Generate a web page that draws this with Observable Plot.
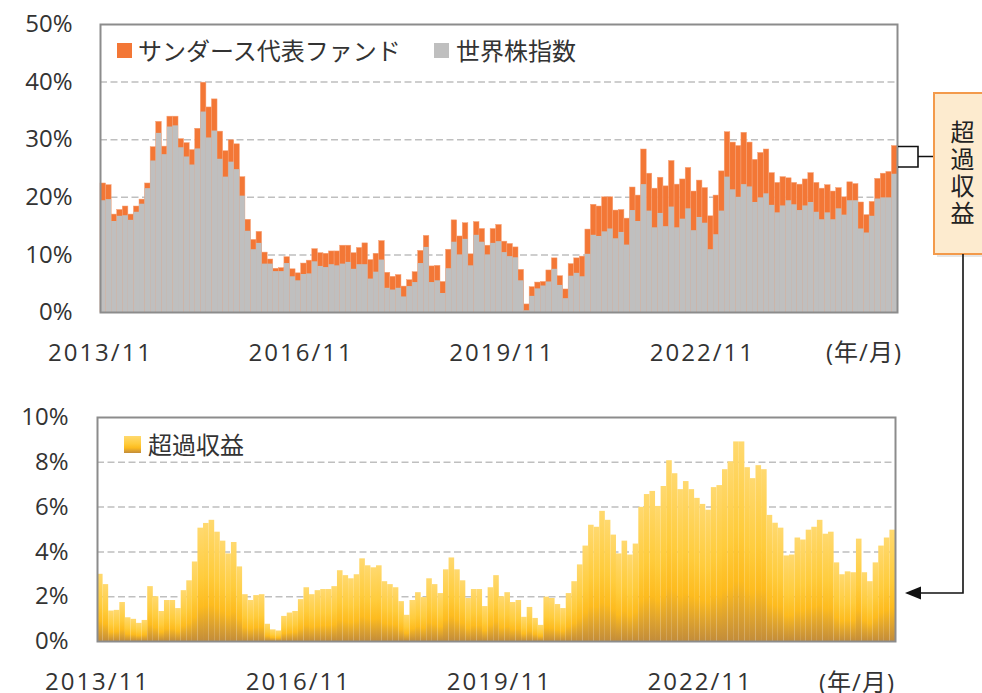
<!DOCTYPE html>
<html><head><meta charset="utf-8">
<script src="https://cdn.jsdelivr.net/npm/d3@7"></script>
<script src="https://cdn.jsdelivr.net/npm/@observablehq/plot@0.6"></script>
<style>
body{margin:0;background:#fff;}
#wrap{position:relative;width:982px;height:693px;overflow:hidden;font-family:"Open Sans","Noto Sans CJK JP",sans-serif;color:#333;}
#wrap svg{position:absolute;left:0;}
.lg{position:absolute;font-size:24px;line-height:24px;white-space:nowrap;font-family:"Noto Sans CJK JP",sans-serif;color:#333;}
</style></head><body>
<div id="wrap"></div>
<script>
// ---- data (monthly, 2013/11 .. 2025/09), % ----
const fundReturn = [22.4,22.1,17.0,17.8,18.4,17.0,18.4,19.6,22.4,28.7,33.1,28.8,34.0,34.0,30.1,29.4,28.2,31.9,39.9,35.6,37.0,31.4,28.0,29.9,29.2,23.5,16.1,12.6,14.0,10.4,9.2,7.6,7.7,9.6,7.5,6.8,
8.5,9.0,11.0,10.3,10.2,10.6,10.6,11.6,11.6,10.3,11.2,12.0,9.1,10.2,12.4,6.9,6.2,6.5,4.5,5.6,7.0,10.7,13.3,8.0,8.1,5.3,10.9,16.0,13.2,15.5,10.1,15.7,14.5,11.6,14.5,15.2,
12.3,11.9,11.3,7.4,1.4,4.4,5.2,5.3,7.3,9.4,6.3,4.0,8.4,9.4,9.7,14.4,18.7,18.4,20.0,20.0,17.7,17.8,16.3,21.7,20.3,28.3,24.1,21.5,23.4,21.9,26.3,22.2,23.1,25.1,21.0,22.9,
21.6,16.7,20.3,24.5,31.3,29.5,28.9,31.2,29.5,26.5,27.7,28.3,24.2,22.5,23.5,23.3,22.5,22.2,23.1,24.2,22.5,21.5,22.1,21.0,21.6,20.0,22.6,22.3,19.1,16.9,19.2,23.2,24.1,24.4,28.9];
const worldIndex = [19.4,19.6,15.8,16.7,16.8,16.0,17.4,18.8,21.5,26.3,31.1,27.4,32.2,32.4,28.6,27.0,25.6,28.4,34.8,30.3,31.5,26.6,23.5,26.1,24.8,20.2,14.1,10.9,12.0,8.4,8.4,7.1,7.1,8.5,6.2,5.5,
6.6,6.7,8.8,8.0,7.8,8.3,8.1,8.4,8.7,7.5,8.3,8.3,5.8,7.0,9.1,4.2,3.9,4.2,2.7,4.5,5.2,8.5,11.3,5.2,5.5,3.3,7.6,12.2,10.0,12.7,8.1,13.4,12.2,10.0,12.0,12.3,
10.4,9.7,9.5,5.5,0.3,2.8,4.1,4.6,5.3,7.5,4.7,2.4,6.3,6.8,6.2,10.1,13.4,13.2,14.0,14.5,12.8,13.9,11.7,17.7,15.8,22.2,17.6,14.7,17.2,14.9,18.3,14.7,16.2,18.0,14.2,16.5,
15.5,10.9,13.5,17.6,23.5,21.3,20.0,22.2,21.8,19.1,19.9,20.6,18.6,17.3,18.5,19.4,18.7,17.7,18.5,19.1,17.4,16.1,17.3,16.1,18.0,16.9,19.4,19.4,14.5,13.8,16.7,19.7,19.9,19.9,24.0];
const excessReturn = [3.0,2.54,1.36,1.39,1.74,1.06,0.99,0.81,0.94,2.45,2.0,1.34,1.83,1.83,1.47,2.27,2.71,3.55,5.06,5.27,5.41,4.88,4.48,3.91,4.42,3.33,2.09,1.83,2.05,2.09,0.77,0.52,0.47,1.12,1.27,1.34,
1.87,2.40,2.09,2.27,2.32,2.32,2.45,3.16,2.94,2.80,2.98,3.69,3.38,3.29,3.38,2.67,2.54,2.40,1.78,1.17,1.83,2.18,1.96,2.80,2.54,2.14,3.20,3.73,3.20,2.71,1.92,2.32,2.32,1.56,2.40,2.94,
2.0,2.18,1.74,1.83,1.08,1.52,1.03,0.72,1.98,1.92,1.65,1.47,2.14,2.67,3.42,4.26,5.19,5.10,5.81,5.41,4.75,3.91,4.48,3.86,4.35,5.99,6.56,6.70,6.03,6.92,8.07,7.49,6.78,7.14,6.78,6.39,
6.12,5.86,6.87,6.96,7.67,8.02,8.91,8.91,7.76,7.27,7.85,7.67,5.63,5.28,5.06,3.82,3.86,4.62,4.53,4.97,5.10,5.41,4.79,4.88,3.51,2.98,3.11,3.07,4.57,3.07,2.67,3.51,4.26,4.62,4.97];
const tickPositions = [0, 36, 72, 108];
const tickLabels = ["2013/11", "2016/11", "2019/11", "2022/11"];
const topTicks = [0, 10, 20, 30, 40, 50];
const bottomTicks = [0, 2, 4, 6, 8, 10];
const seriesNames = ["サンダース代表ファンド", "世界株指数"];
const excessName = "超過収益";
const axisUnit = "(年/月)";

const colFund = "#F37736", colIndex = "#BFBFBF";
const rows = fundReturn.map((f, i) => ({i, fund: f, index: worldIndex[i], excess: excessReturn[i]}));
const n = rows.length;
const font = `"Open Sans","Noto Sans CJK JP",sans-serif`;
const xFmt = d => tickLabels[tickPositions.indexOf(d)];
const grid = {stroke: "#bfbfbf", strokeWidth: 1.5, strokeDasharray: "7,3.5"};
const style = {fontFamily: font, fontSize: "24px", color: "#333", background: "transparent", overflow: "visible"};

const topChart = Plot.plot({
  width: 982, height: 362, marginLeft: 100, marginRight: 85, marginTop: 24, marginBottom: 50,
  style,
  x: {domain: [0, n], ticks: tickPositions, tickFormat: xFmt, tickSize: 0, tickPadding: 31, label: null},
  y: {domain: [0, 50], ticks: topTicks, tickFormat: d => d + "%", tickSize: 0, tickPadding: 28, label: null},
  marks: [
    Plot.ruleY(topTicks.slice(1, -1), grid),
    Plot.rect(rows, {x1: "i", x2: d => d.i + 1, y1: d => 0, y2: "fund", fill: colFund, stroke: "#F6A075", strokeWidth: 0.5}),
    Plot.rect(rows, {x1: "i", x2: d => d.i + 1, y1: d => 0, y2: "index", fill: colIndex}),
    Plot.frame({stroke: "#8c8c8c", strokeWidth: 2})
  ]
});

const bottomChart = Plot.plot({
  width: 982, height: 331, marginLeft: 97, marginRight: 87, marginTop: 55, marginBottom: 52,
  style,
  x: {domain: [0, n], ticks: tickPositions, tickFormat: xFmt, tickSize: 0, tickPadding: 31, label: null},
  y: {domain: [0, 10], ticks: bottomTicks, tickFormat: d => d + "%", tickSize: 0, tickPadding: 29, label: null},
  marks: [
    Plot.ruleY(bottomTicks.slice(1, -1), grid),
    Plot.rect(rows, {x1: "i", x2: d => d.i + 1, y1: d => 0, y2: "excess", fill: "url(#excessGrad)"}),
    Plot.frame({stroke: "#8c8c8c", strokeWidth: 2})
  ]
});

function addGrad(svg, id) {
  const g = d3.select(svg).insert("defs", ":first-child").append("linearGradient")
    .attr("id", id).attr("x1", 0).attr("y1", 0).attr("x2", 0).attr("y2", 1);
  [[0, "#FFD96F"], [0.45, "#FFCC3C"], [0.7, "#FDBB1E"], [0.86, "#DDA22F"], [1, "#C28C3A"]]
    .forEach(([o, c]) => g.append("stop").attr("offset", o).attr("stop-color", c));
}
addGrad(bottomChart, "excessGrad");

// widen x tick labels (letter spacing) to match the reference typeface width
for (const svg of [topChart, bottomChart]) {
  const yTexts = new Set(Array.from(svg.querySelectorAll("text")).filter(t => /%$/.test(t.textContent)));
  svg.querySelectorAll("text").forEach(t => {
    if (tickLabels.includes(t.textContent)) t.setAttribute("letter-spacing", "2");
  });
}

const wrap = document.getElementById("wrap");
topChart.style.top = "0px";
bottomChart.style.top = "362px";
wrap.appendChild(topChart);
wrap.appendChild(bottomChart);

// legends and unit labels (HTML)
function add(html, css) {
  const d = document.createElement("div");
  d.textContent = html; d.className = "lg"; Object.assign(d.style, css); wrap.appendChild(d); return d;
}
add("", {left: "117px", top: "43px", width: "15px", height: "15px", background: colFund});
add(seriesNames[0], {left: "138px", top: "38px"});
add("", {left: "434px", top: "43px", width: "15px", height: "15px", background: colIndex});
add(seriesNames[1], {left: "456px", top: "38px"});
add("", {left: "124px", top: "436px", width: "17px", height: "17px", background: "linear-gradient(#FFD96F, #FFCC3C 45%, #FDBB1E 70%, #DDA22F 86%, #C28C3A)"});
add(excessName, {left: "148px", top: "432px"});
add(axisUnit, {left: "826px", top: "340px", fontFamily: font, letterSpacing: "1px"});
add(axisUnit, {left: "819px", top: "670px", fontFamily: font, letterSpacing: "1px"});

// annotation overlay
const ov = d3.select(wrap).append("svg").attr("width", 982).attr("height", 693)
  .style("position", "absolute").style("top", "0px").style("left", "0px").style("pointer-events", "none");
ov.append("path").attr("d", "M898,146.5H918V167H898M918,156.5H934").attr("fill", "none").attr("stroke", "#111").attr("stroke-width", 1.6);
ov.append("rect").attr("x", 937).attr("y", 96).attr("width", 60).attr("height", 161).attr("fill", "#d6d6d6").attr("opacity", 0.6);
ov.append("rect").attr("x", 934).attr("y", 93).attr("width", 60).attr("height", 161).attr("fill", "#FDEBCF").attr("stroke", "#F39A4B").attr("stroke-width", 2);
ov.append("path").attr("d", "M963,254V593H918").attr("fill", "none").attr("stroke", "#111").attr("stroke-width", 1.6);
ov.append("path").attr("d", "M905,593L921,586.5V599.5Z").attr("fill", "#111");

// vertical box label
add(excessName, {left: "950px", top: "120px", writingMode: "vertical-rl", letterSpacing: "3px", color: "#222", zIndex: 5});
</script>
</body></html>
